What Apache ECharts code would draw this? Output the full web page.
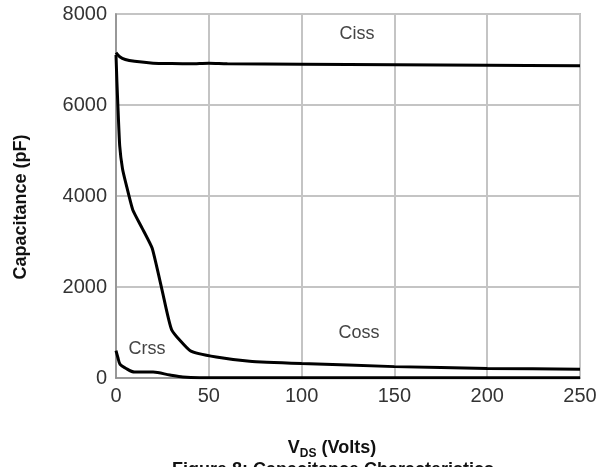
<!DOCTYPE html>
<html>
<head>
<meta charset="utf-8">
<script src="https://cdn.jsdelivr.net/npm/echarts@6/dist/echarts.min.js"></script>
<style>
  html, body { margin: 0; padding: 0; background: #fff; }
  #chart { width: 610px; height: 467px; }
</style>
</head>
<body>
<div id="chart"></div>
<script>
// Capacitance vs drain-source voltage
const xTicks = [0, 50, 100, 150, 200, 250];
const yTicks = [0, 2000, 4000, 6000, 8000];

const cissV = [0, 2, 5, 10, 20, 30, 40, 50, 60, 100, 150, 200, 250];
const cissC = [7150, 7060, 7000, 6960, 6920, 6910, 6905, 6920, 6905, 6895, 6885, 6875, 6860];

const cossV = [0, 0.5, 1, 2, 3.5, 5.5, 9, 14, 19.5, 25, 30, 40, 54, 72, 100, 150, 200, 250];
const cossC = [7100, 6500, 6000, 5100, 4600, 4250, 3700, 3300, 2850, 1900, 1060, 600, 460, 370, 320, 250, 210, 195];

const crssV = [0, 1, 2.2, 5, 10, 20, 29, 36, 45, 250];
const crssC = [600, 450, 300, 220, 130, 130, 65, 20, 5, 5];

const zip = (xs, ys) => xs.map((x, i) => [x, ys[i]]);

const FONT = '"Liberation Sans", Arial, Helvetica, sans-serif';
const lineStyle = { color: '#000', width: 3 };

const chart = echarts.init(document.getElementById('chart'), null, { renderer: 'canvas' });

chart.setOption({
  animation: false,
  backgroundColor: '#fff',
  grid: {
    left: 116, right: 30, top: 14, bottom: 89,
    show: true, borderColor: '#8a8a8a', borderWidth: 1.5
  },
  xAxis: {
    type: 'value',
    min: xTicks[0], max: xTicks[xTicks.length - 1], interval: 50,
    axisLine: { show: true, lineStyle: { color: '#8a8a8a', width: 1.5 } },
    axisTick: { show: false },
    axisLabel: { color: '#333', fontSize: 20, fontFamily: FONT, margin: 8, formatter: v => String(v) },
    splitLine: { show: true, lineStyle: { color: '#c4c4c4', width: 2 } }
  },
  yAxis: {
    type: 'value',
    min: yTicks[0], max: yTicks[yTicks.length - 1], interval: 2000,
    axisLine: { show: true, lineStyle: { color: '#8a8a8a', width: 1.5 } },
    axisTick: { show: false },
    axisLabel: { color: '#333', fontSize: 20, fontFamily: FONT, margin: 9, formatter: v => String(v) },
    splitLine: { show: true, lineStyle: { color: '#c4c4c4', width: 2 } }
  },
  series: [
    { name: 'Ciss', type: 'line', data: zip(cissV, cissC), showSymbol: false, smooth: 0.3, lineStyle },
    { name: 'Coss', type: 'line', data: zip(cossV, cossC), showSymbol: false, smooth: 0.15, lineStyle },
    { name: 'Crss', type: 'line', data: zip(crssV, crssC), showSymbol: false, smooth: 0.3, lineStyle }
  ],
  graphic: [
    { type: 'text', x: 357, y: 34, style: { text: 'Ciss', fill: '#444', font: '18px ' + FONT, align: 'center', verticalAlign: 'middle' } },
    { type: 'text', x: 359, y: 333, style: { text: 'Coss', fill: '#444', font: '18px ' + FONT, align: 'center', verticalAlign: 'middle' } },
    { type: 'text', x: 147, y: 349, style: { text: 'Crss', fill: '#444', font: '18px ' + FONT, align: 'center', verticalAlign: 'middle' } },
    {
      type: 'text', x: 21, y: 207, rotation: Math.PI / 2,
      style: { text: 'Capacitance (pF)', fill: '#111', font: 'bold 18px ' + FONT, align: 'center', verticalAlign: 'middle' }
    },
    {
      type: 'text', x: 332, y: 447,
      style: {
        text: '{v|V}{s|DS}{v| (Volts)}',
        align: 'center', verticalAlign: 'middle',
        rich: {
          v: { fill: '#111', font: 'bold 18px ' + FONT, verticalAlign: 'bottom', lineHeight: 20 },
          s: { fill: '#111', font: 'bold 12px ' + FONT, verticalAlign: 'bottom', lineHeight: 13, padding: [0, 0, -3, 0] }
        }
      }
    },
    {
      type: 'text', x: 333, y: 461,
      style: { text: 'Figure 8: Capacitance Characteristics', fill: '#111', font: 'bold 18px ' + FONT, align: 'center', verticalAlign: 'top' }
    }
  ]
});
</script>
</body>
</html>
